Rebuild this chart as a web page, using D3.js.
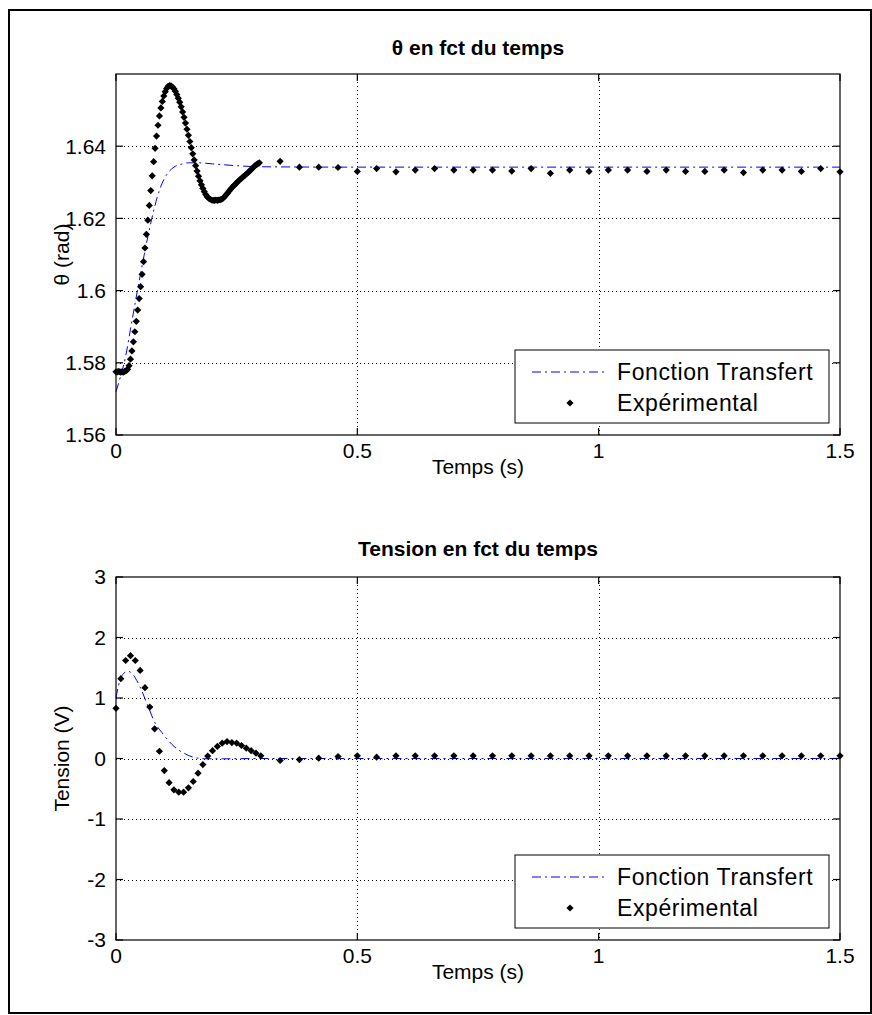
<!DOCTYPE html>
<html>
<head>
<meta charset="utf-8">
<script src="https://cdn.jsdelivr.net/npm/d3@7"></script>
<style>
  body { margin: 0; background: #fff; }
  svg { display: block; }
  text { font-family: "Liberation Sans", Arial, sans-serif; fill: #000; }
</style>
</head>
<body>
<svg id="fig" width="872" height="1015"></svg>
<script>
// ---- Measured angle (rad): fast acquisition, one sample every 3 ms from t = 0 ----
const thetaFastStep = 0.003;
const thetaFast = [
  1.5775, 1.5775, 1.5776, 1.5774, 1.5775, 1.5774, 1.5776, 1.5778, 1.5782, 1.5792,
  1.5810, 1.5833, 1.5858, 1.5886, 1.5915, 1.5946, 1.5978, 1.6011, 1.6045, 1.6080,
  1.6118, 1.6156, 1.6195, 1.6236, 1.6277, 1.6318, 1.6357, 1.6394, 1.6428, 1.6458,
  1.6484, 1.6506, 1.6524, 1.6539, 1.6551, 1.6560, 1.6566, 1.6568, 1.6567, 1.6564,
  1.6559, 1.6552, 1.6543, 1.6533, 1.6522, 1.6509, 1.6495, 1.6480, 1.6464, 1.6447,
  1.6430, 1.6413, 1.6396, 1.6379, 1.6362, 1.6346, 1.6331, 1.6317, 1.6304, 1.6293,
  1.6283, 1.6274, 1.6266, 1.6260, 1.6256, 1.6253, 1.6251, 1.6250, 1.6250, 1.6251,
  1.6250, 1.6251, 1.6252, 1.6253, 1.6256, 1.6260, 1.6265, 1.6270, 1.6275, 1.6280,
  1.6285, 1.6289, 1.6293, 1.6297, 1.6302, 1.6305, 1.6309, 1.6312, 1.6316, 1.6319,
  1.6323, 1.6326, 1.6330, 1.6334, 1.6338, 1.6342, 1.6346, 1.6349, 1.6352, 1.6354
];

// ---- Measured voltage (V): fast acquisition, one sample every 10 ms from t = 0 ----
const tensionFastStep = 0.01;
const tensionFast = [
  0.83, 1.32, 1.62, 1.70, 1.62, 1.455, 1.17, 0.85, 0.49, 0.12,
  -0.20, -0.40, -0.517, -0.557, -0.557, -0.485, -0.38, -0.243, -0.10, 0.04,
  0.13, 0.20, 0.253, 0.28, 0.264, 0.253, 0.215, 0.17, 0.13, 0.088, 0.045
];

// ---- Slow acquisition after the transient (s) ----
const slowTimes = [
  0.34, 0.38, 0.42, 0.46, 0.50, 0.54, 0.58, 0.62, 0.66, 0.70,
  0.74, 0.78, 0.82, 0.86, 0.90, 0.94, 0.98, 1.02, 1.06, 1.10,
  1.14, 1.18, 1.22, 1.26, 1.30, 1.34, 1.38, 1.42, 1.46, 1.50
];
const thetaSlow = [
  1.6358, 1.6342, 1.6342, 1.6341, 1.6330, 1.6338, 1.6329, 1.6334, 1.6338, 1.6334,
  1.6334, 1.6334, 1.6331, 1.6338, 1.6325, 1.6334, 1.6330, 1.6334, 1.6334, 1.6330,
  1.6334, 1.6330, 1.6330, 1.6334, 1.6327, 1.6334, 1.6334, 1.6330, 1.6338, 1.6329
];
const tensionSlow = [
  -0.033, -0.017, 0.005, 0.033, 0.045, 0.022, 0.045, 0.045, 0.045, 0.045,
  0.045, 0.045, 0.045, 0.045, 0.045, 0.045, 0.045, 0.045, 0.045, 0.045,
  0.045, 0.045, 0.045, 0.045, 0.045, 0.045, 0.045, 0.045, 0.045, 0.045
];

// ---- Transfer-function responses ----
const thetaModelT = [0, 0.010, 0.020, 0.030, 0.040, 0.050, 0.060, 0.070, 0.080, 0.090,
  0.100, 0.110, 0.120, 0.135, 0.150, 0.170, 0.200, 0.250, 0.300, 0.500, 1.000, 1.500];
const thetaModel = [1.5720, 1.5765, 1.5818, 1.5893, 1.5968, 1.6040, 1.6110, 1.6175, 1.6232, 1.6278,
  1.6310, 1.6330, 1.6342, 1.6350, 1.6354, 1.6354, 1.6351, 1.6346, 1.6343, 1.6342, 1.6342, 1.6342];

const tensionModelT = [0, 0.005, 0.010, 0.015, 0.020, 0.025, 0.030, 0.036, 0.043, 0.050,
  0.060, 0.070, 0.080, 0.095, 0.108, 0.122, 0.143, 0.160, 0.184, 0.220, 0.300, 0.500, 1.000, 1.500];
const tensionModel = [1.00, 1.20, 1.33, 1.40, 1.43, 1.44, 1.426, 1.38, 1.29, 1.18,
  0.99, 0.79, 0.60, 0.43, 0.30, 0.187, 0.078, 0.022, -0.004, -0.005, 0, 0, 0, 0];

// ---- Axes ticks and texts ----
const xTicks = [0, 0.5, 1, 1.5];
const xTickLabels = ["0", "0.5", "1", "1.5"];
const thetaTicks = [1.56, 1.58, 1.6, 1.62, 1.64];
const thetaTickLabels = ["1.56", "1.58", "1.6", "1.62", "1.64"];
const tensionTicks = [-3, -2, -1, 0, 1, 2, 3];
const tensionTickLabels = ["-3", "-2", "-1", "0", "1", "2", "3"];
const legendLabels = ["Fonction Transfert", "Expérimental"];

// ---- Build point sets ----
const thetaPoints = thetaFast.map((v, i) => [i * thetaFastStep, v])
  .concat(slowTimes.map((t, i) => [t, thetaSlow[i]]));
const tensionPoints = tensionFast.map((v, i) => [i * tensionFastStep, v])
  .concat(slowTimes.map((t, i) => [t, tensionSlow[i]]));
const thetaCurve = thetaModelT.map((t, i) => [t, thetaModel[i]]);
const tensionCurve = tensionModelT.map((t, i) => [t, tensionModel[i]]);

const svg = d3.select("#fig");
const TICK_FONT = 21;
const LABEL_FONT = 21;
const TITLE_FONT = 21;
const LEGEND_FONT = 23;
const markerPath = "M0,-3.6L3.6,0L0,3.6L-3.6,0Z";
const dashDot = "9,4,2,4";

// figure frame
svg.append("rect")
  .attr("x", 9).attr("y", 10).attr("width", 862).attr("height", 1003)
  .attr("fill", "none").attr("stroke", "#000").attr("stroke-width", 2);

function panel(cfg) {
  const g = svg.append("g");
  const x = d3.scaleLinear().domain([0, 1.5]).range([116, 840]);
  const y = d3.scaleLinear().domain(cfg.yDomain).range([cfg.bottom, cfg.top]);
  const L = 116, R = 840, T = cfg.top, B = cfg.bottom;
  const tick = 7;

  // grid
  const grid = g.append("g").attr("stroke", "#000").attr("stroke-width", 1)
    .attr("stroke-dasharray", "1,3").attr("shape-rendering", "crispEdges");
  xTicks.filter(t => t > 0 && t < 1.5).forEach(t => {
    grid.append("line").attr("x1", Math.round(x(t)) + 0.5).attr("x2", Math.round(x(t)) + 0.5)
      .attr("y1", T).attr("y2", B);
  });
  cfg.yTicks.filter(v => v > cfg.yDomain[0] && v < cfg.yDomain[1]).forEach(v => {
    grid.append("line").attr("y1", Math.round(y(v)) + 0.5).attr("y2", Math.round(y(v)) + 0.5)
      .attr("x1", L).attr("x2", R);
  });

  // transfer function curve
  g.append("path").datum(cfg.curve)
    .attr("fill", "none").attr("stroke", "#0000ff").attr("stroke-width", 1)
    .attr("stroke-dasharray", dashDot)
    .attr("d", d3.line().x(d => x(d[0])).y(d => y(d[1])).curve(d3.curveMonotoneX));

  // experimental points
  g.append("g").selectAll("path").data(cfg.points).join("path")
    .attr("d", markerPath)
    .attr("transform", d => `translate(${x(d[0])},${y(d[1])})`)
    .attr("fill", "#000");

  // axes box
  g.append("rect").attr("x", L).attr("y", T).attr("width", R - L).attr("height", B - T)
    .attr("fill", "none").attr("stroke", "#000").attr("stroke-width", 1.2);

  // ticks (inward, on all four sides)
  const tg = g.append("g").attr("stroke", "#000").attr("stroke-width", 1.2);
  xTicks.forEach(t => {
    tg.append("line").attr("x1", x(t)).attr("x2", x(t)).attr("y1", B).attr("y2", B - tick);
    tg.append("line").attr("x1", x(t)).attr("x2", x(t)).attr("y1", T).attr("y2", T + tick);
  });
  cfg.yTicks.forEach(v => {
    tg.append("line").attr("y1", y(v)).attr("y2", y(v)).attr("x1", L).attr("x2", L + tick);
    tg.append("line").attr("y1", y(v)).attr("y2", y(v)).attr("x1", R).attr("x2", R - tick);
  });

  // tick labels
  xTicks.forEach((t, i) => {
    g.append("text").attr("x", x(t)).attr("y", B + 16).attr("dy", "0.35em")
      .attr("text-anchor", "middle").attr("font-size", TICK_FONT).text(xTickLabels[i]);
  });
  cfg.yTicks.forEach((v, i) => {
    g.append("text").attr("x", L - 10).attr("y", y(v)).attr("dy", "0.35em")
      .attr("text-anchor", "end").attr("font-size", TICK_FONT).text(cfg.yTickLabels[i]);
  });

  // title and axis labels
  g.append("text").attr("x", (L + R) / 2).attr("y", cfg.titleY).attr("dy", "0.35em")
    .attr("text-anchor", "middle").attr("font-size", TITLE_FONT).attr("font-weight", "bold")
    .text(cfg.title);
  g.append("text").attr("x", (L + R) / 2).attr("y", B + 32).attr("dy", "0.35em")
    .attr("text-anchor", "middle").attr("font-size", LABEL_FONT).text("Temps (s)");
  g.append("text")
    .attr("transform", `translate(${62},${(T + B) / 2}) rotate(-90)`)
    .attr("dy", "0.35em").attr("text-anchor", "middle").attr("font-size", LABEL_FONT)
    .text(cfg.ylabel);

  // legend
  const lw = 314, lh = 73;
  const lx = R - 11 - lw, ly = B - 12 - lh;
  const lg = g.append("g");
  lg.append("rect").attr("x", lx).attr("y", ly).attr("width", lw).attr("height", lh)
    .attr("fill", "#fff").attr("stroke", "#000").attr("stroke-width", 1);
  const r1 = ly + 22, r2 = ly + 53;
  lg.append("line").attr("x1", lx + 17).attr("x2", lx + 93).attr("y1", r1).attr("y2", r1)
    .attr("stroke", "#0000ff").attr("stroke-width", 1).attr("stroke-dasharray", dashDot);
  lg.append("path").attr("d", markerPath).attr("transform", `translate(${lx + 55},${r2})`)
    .attr("fill", "#000");
  lg.append("text").attr("x", lx + 102).attr("y", r1).attr("dy", "0.35em")
    .attr("font-size", LEGEND_FONT).attr("letter-spacing", 0.6).text(legendLabels[0]);
  lg.append("text").attr("x", lx + 102).attr("y", r2).attr("dy", "0.35em")
    .attr("font-size", LEGEND_FONT).attr("letter-spacing", 0.6).text(legendLabels[1]);
}

panel({
  top: 74, bottom: 435, yDomain: [1.56, 1.66],
  yTicks: thetaTicks, yTickLabels: thetaTickLabels,
  points: thetaPoints, curve: thetaCurve,
  title: "θ en fct du temps", titleY: 48, ylabel: "θ (rad)"
});

panel({
  top: 577, bottom: 940, yDomain: [-3, 3],
  yTicks: tensionTicks, yTickLabels: tensionTickLabels,
  points: tensionPoints, curve: tensionCurve,
  title: "Tension en fct du temps", titleY: 549, ylabel: "Tension (V)"
});
</script>
</body>
</html>
